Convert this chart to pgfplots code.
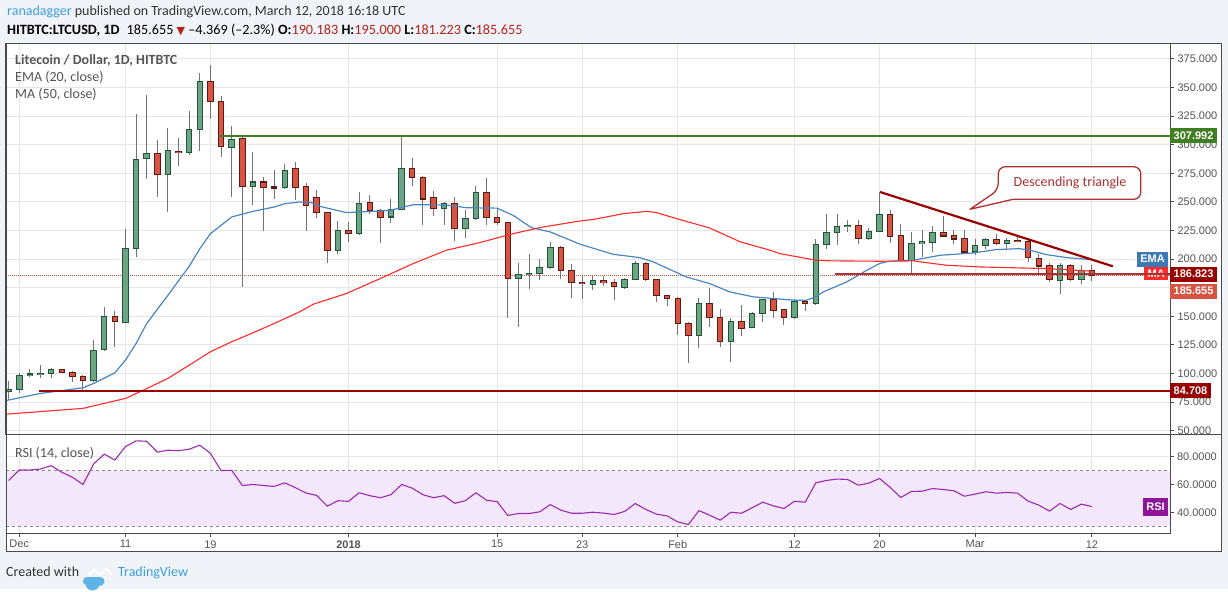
\documentclass[border=0pt]{standalone}
\usepackage{pgfplots}
\pgfplotsset{compat=1.18}
\usepackage{pgfplotstable}
\usepackage{fontspec}
\setmainfont{Carlito}
\newfontfamily\axisfont{Liberation Sans}
\newfontfamily\symfont{DejaVu Sans}

\definecolor{bg}{HTML}{F0F3F7}
\definecolor{frame}{HTML}{4A4A4A}
\definecolor{gridc}{HTML}{E6E6E6}
\definecolor{lbl}{HTML}{555555}
\definecolor{hdr}{HTML}{333333}
\definecolor{upfill}{HTML}{6BA583}
\definecolor{upline}{HTML}{225437}
\definecolor{dnfill}{HTML}{D75442}
\definecolor{dnline}{HTML}{5B1A13}
\definecolor{wickc}{HTML}{737375}
\definecolor{emac}{HTML}{4A86C0}
\definecolor{emabox}{HTML}{3D7AB5}
\definecolor{mac}{HTML}{FF2A2A}
\definecolor{rsic}{HTML}{9C2BAF}
\definecolor{rsiband}{HTML}{F3E7FC}
\definecolor{rsibox}{HTML}{8E1599}
\definecolor{resg}{HTML}{3F7F22}
\definecolor{supr}{HTML}{990000}
\definecolor{tvred}{HTML}{B5231B}
\definecolor{tvblue}{HTML}{3BA0DC}
\definecolor{logoc}{HTML}{5DB3E6}
\definecolor{callc}{HTML}{B03030}

% daily candles, d = days since 1 Dec 2017
\pgfplotstableread{
d O H L C
-1 84.5 93 77 86
0 86 100.6 82.6 98.6
1 98 103.5 97 99.5
2 99 107.3 96.3 100.3
3 100 104.5 95.7 103.5
4 103.5 104 100 100.6
5 100.9 102.4 92.8 97.4
6 97.4 98.5 85.5 93.9
7 93.9 129.1 92.2 120.1
8 121 158.2 120 149.8
9 149.8 154.5 123.3 145.1
10 144.6 226 144 209.1
11 209 327 201.6 286.8
12 288 343.3 269.6 292
13 292.1 304.3 254.2 273.7
14 273.7 314.2 241.1 295
15 294.1 305.4 281.3 292.9
16 292.9 329 291 313
17 313 362.2 294.4 354.9
18 354.9 370 322.3 338
19 337.4 342.1 289.1 298.7
20 297.9 316.5 254.2 304.3
21 305.2 307.2 175.7 263.2
22 263.2 293.2 247 267.3
23 267.3 272 224.6 262.4
24 263 277.5 252.5 262.1
25 262.4 282.7 261.2 277.5
26 279.2 284.5 251.3 262.4
27 263.3 266.2 224.6 246.7
28 253.7 260.6 235.9 240.6
29 240.6 241.5 196.6 207.4
30 207.4 233 204.5 224.9
31 224.9 232.1 215 222.2
32 222.2 258.3 221 248.4
33 249.3 255.7 239.7 242
34 242.3 243.8 214.1 236.2
35 236.8 252.2 231.5 243.2
36 243.2 308.6 242.6 279
37 279 288.6 263.5 271.1
38 271.1 272.9 229.5 252.5
39 253.7 259.2 237.7 244.1
40 244.1 249.6 229.5 248.4
41 248.4 253.9 215.8 226.6
42 226.6 242.6 218.5 235.3
43 235.3 264.1 234.5 258
44 258 270.5 229.5 236.2
45 236.2 244.9 230 231.8
46 231.8 232.5 148.6 183
47 183 196.9 140.8 186.5
48 186.5 204.2 173.7 187.6
49 187.3 199.8 181.5 192.6
50 192.6 214.7 191.5 210
51 210 211 182.7 190
52 190 195.5 166.1 179.3
53 179.5 186.5 165.2 178.3
54 177.4 185.3 172.8 181.2
55 181.5 185.3 176.3 179.2
56 179.5 182.4 164 175.7
57 174.8 183.8 174 182.1
58 182.1 198.4 181.5 196.1
59 196.1 197.5 180.4 182.1
60 182.1 183 162.6 168.1
61 168.1 169 159.1 165.5
62 165.5 167 133.8 143.7
63 143.7 144.6 108.8 133.2
64 133.2 166.4 122.4 161.2
65 161.2 175.1 140.8 148.9
66 148.9 156.2 123.3 128
67 128 148.6 109.7 145.4
68 145.4 159.7 132.9 139.3
69 140.2 153.3 139.5 152.4
70 152.4 165.5 145.1 164.9
71 164.9 171.3 148.6 155.3
72 155.9 156.5 142.8 148.9
73 148.9 164.9 148 163.2
74 163.2 163.8 154.7 161.2
75 161.2 217.9 160 212.6
76 212.6 239.7 208.6 223.1
77 223.1 239.7 212.6 228.1
78 228.1 234.5 223.7 229.2
79 229.2 233.9 212.9 217.6
80 217.6 227.5 216.5 224.2
81 224.2 258.6 223.5 239.1
82 239.1 242.6 214.1 219.9
83 220.5 231 197.5 199
84 199 223.7 186.5 213.5
85 213.5 225.1 201.9 215
86 214.7 228.9 206.2 223.1
87 223.1 237.6 219.3 220.2
88 220.5 225.1 213.5 217.6
89 217.6 225.1 205 206.2
90 206.2 217.3 203.9 211.5
91 211.5 218.4 209.1 217
92 217 221.6 212.1 213.5
93 213.5 218.7 209.1 216.1
94 216.4 219.3 214.7 215.2
95 215.5 218.7 197.5 201.3
96 200.4 204.2 185.3 194
97 194 196.9 180 182.1
98 180.9 196.9 169.9 194
99 194 196 181 182.1
100 182.1 195.2 178.6 189.7
101 190.2 195 181.2 185.7
}\ohlc

% EMA(20)
\pgfplotstableread{
d v
-1.25 76.3
-1 76.8
2 82.6
6 87.5
7 91.3
9 100.6
10 111.7
11 126.2
12 143.7
14 168.4
16 193.7
17 209.1
18 222.2
20 236.8
22 241.7
24 245.5
25 248.4
26.4 249.9
27.4 249.6
28.3 246.1
30.8 240.6
34 242
34.9 242.6
37.1 247.5
40.2 247.3
42.1 244.9
45 244.5
46.5 238.2
48.2 227.5
50 223.7
52.8 213
55.9 204.2
58.4 201.3
59.7 197.5
62.8 184.4
65 178.6
66.9 171.3
69.1 167
71 165.5
72.9 164.1
74.1 164
75 167
75.7 171.3
77.9 180
79.8 190.2
81 196.1
81.9 198.1
84.2 199
86.7 203.3
89.8 205.3
92 208.3
94.2 209.1
95.2 207.7
96.7 203.9
98.6 201.3
101 199.5
}\ema

% MA(50)
\pgfplotstableread{
d v
-1.25 64.3
-1 64.6
6 69.5
10 78.2
11.7 85.5
14 95.7
16 107.3
18 119
20 127.7
22 135.5
24 143.7
26.4 153.9
27.7 160.6
30.8 169.9
34 183
37.1 196.1
40.2 207.7
43.2 214
46.5 222.2
49.3 228
52.8 233.3
54 234.5
56.9 239.7
59.1 241.7
60 240.6
62.2 234.5
65 227.2
67.9 215
70.7 207.7
71.6 204.8
75 199
76.6 198.4
81 198.1
84.2 198.4
87.3 194.6
90.5 193.1
96.7 191.7
101 189.4
}\ma

% RSI(14)
\pgfplotstableread{
d r
-1 63
0 70.5
1 70.5
2 71.2
3 73.6
4 68.9
5 65.3
6 60.1
7 74.8
8 81.9
9 77.6
10 87.3
11 91.4
12 91.1
13 83.3
14 84.7
15 84.3
16 85.4
17 88.3
18 82.4
19 70.1
20 70.3
21 59.4
22 60.1
23 59.4
24 58.7
25 61.3
26 57.8
27 54
28 52.3
29 44.5
30 48.5
31 48
32 54.2
33 52.1
34 50.6
35 52.8
36 60.1
37 57.5
38 52.8
39 50.6
40 52.1
41 46.6
42 48.5
43 54.2
44 48.8
45 47.8
46 37.9
47 39.3
48 39.3
49 40.5
50 45.7
51 41.7
52 39.5
53 39.5
54 40.2
55 39.6
56 38.6
57 40.8
58 46.5
59 42.2
60 38.8
61 37.6
62 33.3
63 31.4
64 41.4
65 38.1
66 34.5
67 40.2
68 39.5
69 43.4
70 47.4
71 44.8
72 42.9
73 48.1
74 47.4
75 61.3
76 63
77 64
78 63.7
79 59.6
80 61.1
81 64.4
82 58
83 50.8
84 55.1
85 55.3
86 57.2
87 56.5
88 55.6
89 51.7
90 53.2
91 54.9
92 53.9
93 54.4
94 53.9
95 48.1
96 45.3
97 41
98 46.5
99 42.2
100 46
101 44.3
}\rsi

\tikzset{
  pricelbl/.style={text=white, font=\axisfont\fontsize{11}{12}\selectfont\bfseries,
    inner xsep=3.5pt, inner ysep=0pt, minimum height=15pt},
}
\pgfplotsset{
  tvaxis/.style={
    scale only axis, width=1164pt, xmin=-1.25, xmax=108.35,
    axis line style={draw=frame, line width=1pt},
    grid style={draw=gridc, line width=1pt},
    xmajorgrids, ymajorgrids,
    xtick={0,10,18,31,45,53,62,73,81,90,101},
    ytick pos=right, yticklabel pos=right, xtick pos=bottom,
    tick style={draw=frame, line width=1pt},
    tick align=outside, major tick length=4pt,
    yticklabel style={font=\axisfont\fontsize{11}{13}\selectfont, text=lbl,
      /pgf/number format/fixed, /pgf/number format/fixed zerofill,
      /pgf/number format/1000 sep={}, /pgf/number format/assume math mode=true},
    clip=false,
  },
  wicks/.style={draw=none, mark=none, error bars/.cd, y dir=both, y explicit,
    error mark=none, error bar style={draw=wickc, line width=1pt, solid}},
  body/.style 2 args={draw=none, mark=none, error bars/.cd, y dir=both, y explicit,
    error mark=none, error bar style={draw=#1, line width=#2, solid}},
}

\begin{document}
\begin{tikzpicture}
\begin{scope}[x=1pt,y=-1pt]
  \fill[bg] (0,0) rectangle (1228,589);
  \useasboundingbox (0,0) rectangle (1228,589);
  \fill[white] (6,43.5) rectangle (1221.5,551.5);
\end{scope}

% ---------- price panel ----------
% (the 175 label sits under the last-price box, as in the original)
\begin{axis}[tvaxis, height=390.5pt, at={(6pt,-434pt)}, anchor=south west,
  ymin=47.1, ymax=388.4, ytick={50,75,100,125,150,200,225,250,275,300,325,350,375},
  extra y ticks={175}, extra y tick labels={}, extra y tick style={grid=major},
  xticklabels={,,,,,,,,,,},
  xtick style={draw=none},
  yticklabel style={/pgf/number format/precision=3}]

  \addplot[dnfill, densely dotted, line width=1pt] coordinates {(-1.25,185.655) (108.35,185.655)};

  \addplot[wicks] table[x=d, y expr={(\thisrow{H}+\thisrow{L})/2},
    y error expr={(\thisrow{H}-\thisrow{L})/2}] {\ohlc};
  % rising candles
  \addplot[body={upline}{6.5pt}] table[x=d,
    y expr={\thisrow{C}>=\thisrow{O} ? (\thisrow{O}+\thisrow{C})/2 : nan},
    y error expr={abs(\thisrow{C}-\thisrow{O})/2+0.5}] {\ohlc};
  \addplot[body={upfill}{4.5pt}] table[x=d,
    y expr={\thisrow{C}>=\thisrow{O} ? (\thisrow{O}+\thisrow{C})/2 : nan},
    y error expr={max(abs(\thisrow{C}-\thisrow{O})/2-0.45,0)}] {\ohlc};
  % falling candles
  \addplot[body={dnline}{6.5pt}] table[x=d,
    y expr={\thisrow{C}<\thisrow{O} ? (\thisrow{O}+\thisrow{C})/2 : nan},
    y error expr={abs(\thisrow{C}-\thisrow{O})/2+0.5}] {\ohlc};
  \addplot[body={dnfill}{4.5pt}] table[x=d,
    y expr={\thisrow{C}<\thisrow{O} ? (\thisrow{O}+\thisrow{C})/2 : nan},
    y error expr={max(abs(\thisrow{C}-\thisrow{O})/2-0.45,0)}] {\ohlc};

  \addplot[emac, line width=1.2pt, line join=round] table[x=d, y=v] {\ema};
  \addplot[mac, line width=1.1pt, line join=round] table[x=d, y=v] {\ma};

  \node[pricelbl, fill=emabox, anchor=east] at (axis cs:108.2,200) {EMA};
  \node[pricelbl, fill=mac, anchor=east, minimum height=13pt] at (axis cs:108.2,187.2) {MA};

  \addplot[resg, line width=2pt] coordinates {(18.9,307.992) (108.35,307.992)};
  \addplot[supr, line width=2.5pt] coordinates {(1.9,84.708) (108.35,84.708)};
  \addplot[supr!80!white, line width=2.5pt] coordinates {(76.8,186.823) (108.35,186.823)};
  \addplot[supr, line width=2.2pt] coordinates {(81.05,258.6) (102.96,193.7)};

  \node[pricelbl, fill=resg, anchor=west] at (axis cs:108.35,307.992) {307.992};
  \node[pricelbl, fill=supr, anchor=west] at (axis cs:108.35,84.708) {84.708};
  \node[pricelbl, fill=supr, anchor=west] at (axis cs:108.35,186.823) {186.823};
  \node[pricelbl, fill=dnfill, anchor=west] at (axis cs:108.35,172.0) {185.655};
\end{axis}

\begin{scope}[x=1pt,y=-1pt]
  \fill[white] (1171,434.5) rectangle (1221,533);
\end{scope}

% ---------- RSI panel ----------
\begin{axis}[tvaxis, height=99.3pt, at={(6pt,-533.3pt)}, anchor=south west,
  ymin=25.1, ymax=96.3, ytick={40,60,80},
  xticklabels={Dec,11,19,\textbf{2018},15,23,Feb,12,20,Mar,12},
  xticklabel style={font=\axisfont\fontsize{11}{13}\selectfont, text=lbl},
  major tick length=3.5pt,
  yticklabel style={/pgf/number format/precision=4}]
  \addplot[fill=rsiband, draw=none] coordinates {(-1.25,30) (108.35,30) (108.35,70) (-1.25,70)} -- cycle;
  \addplot[gridc!60!black, dashed, line width=1pt] coordinates {(-1.25,70) (108.35,70)};
  \addplot[gridc!60!black, dashed, line width=1pt] coordinates {(-1.25,30) (108.35,30)};
  \addplot[rsic, line width=1.1pt, line join=round] table[x=d, y=r] {\rsi};
  \node[pricelbl, fill=rsibox, anchor=east, minimum height=18pt] at (axis cs:108.2,43.9) {RSI};
\end{axis}

\begin{scope}[x=1pt,y=-1pt]
  % frame
  \draw[frame, line width=1pt] (6,43.5) rectangle (1221.5,551.5);
  \draw[frame, line width=1pt] (1170,434) -- (1221.5,434);

  % header
  \node[anchor=base west, inner sep=0, font=\fontsize{14}{16}\selectfont, text=hdr] at (7,15.5)
    {{\color{tvblue}ranadagger} published on TradingView.com, March 12, 2018 16:18 UTC};
  \node[anchor=base west, inner sep=0, font=\fontsize{14.2}{16}\selectfont, text=black] at (7,34.5)
    {\textbf{HITBTC:LTCUSD, 1D}\enspace 185.655 {\color{tvred}\symfont\fontsize{11}{11}\selectfont ▼}
     –4.369 (–2.3\%) \textbf{O:}{\color{tvred}190.183} \textbf{H:}{\color{tvred}195.000}
     \textbf{L:}{\color{tvred}181.223} \textbf{C:}{\color{tvred}185.655}};

  % legends
  \node[anchor=base west, inner sep=0, font=\fontsize{14}{16}\selectfont\bfseries, text=lbl] at (15,64.5)
    {Litecoin / Dollar, 1D, HITBTC};
  \node[anchor=base west, inner sep=0, font=\fontsize{14}{16}\selectfont, text=lbl] at (15,81.5)
    {EMA (20, close)};
  \node[anchor=base west, inner sep=0, font=\fontsize{14}{16}\selectfont, text=lbl] at (15,98.5)
    {MA (50, close)};
  \node[anchor=base west, inner sep=0, font=\fontsize{14}{16}\selectfont, text=lbl] at (15,457.5)
    {RSI (14, close)};

  % callout
  \draw[callc, line width=1.3pt, fill=white, line join=round]
    (1013,199.3) [rounded corners=7pt] -- (1140.7,199.3) -- (1140.7,166.7)
    -- (998.3,166.7) -- (998.3,190) [sharp corners] -- (970,209.3) -- cycle;
  \node[text=callc, font=\fontsize{14}{16}\selectfont] at (1070,183) {Descending triangle};

  % footer
  \node[anchor=base west, inner sep=0, font=\fontsize{14}{16}\selectfont, text=hdr] at (6,576)
    {Created with};
  \fill[logoc] (87,577) arc[start angle=270, end angle=110, radius=4]
    arc[start angle=170, end angle=20, radius=7] arc[start angle=100, end angle=-90, radius=4.5]
    -- cycle;
  \draw[white, line width=1.8pt, line join=miter] (88,576) -- (94.5,569.5) -- (100,575) -- (106,568.5) -- (111.5,574);
  \node[anchor=base west, inner sep=0, font=\fontsize{14}{16}\selectfont, text=tvblue] at (118,576)
    {TradingView};
\end{scope}
\end{tikzpicture}
\end{document}
